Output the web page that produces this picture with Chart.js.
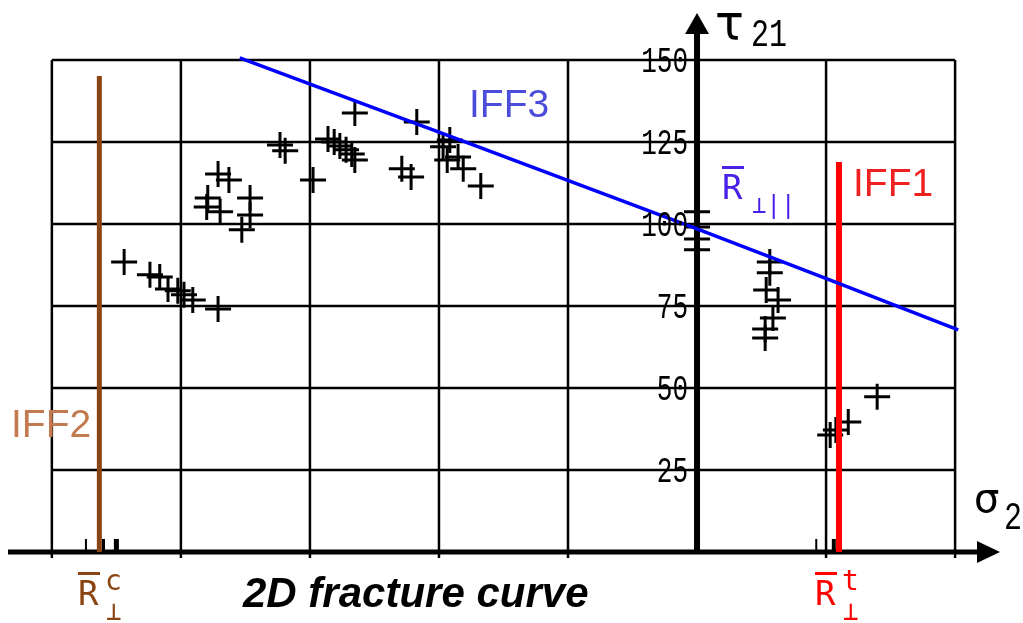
<!DOCTYPE html>
<html>
<head>
<meta charset="utf-8">
<script src="https://cdn.jsdelivr.net/npm/chart.js@4.4.1/dist/chart.umd.min.js"></script>
<style>
html, body { margin: 0; padding: 0; background: #fff; }
#wrap { width: 1023px; height: 623px; }
</style>
</head>
<body>
<div id="wrap"><canvas id="fracture"></canvas></div>
<script>
// grid values for sigma_2 and tick labels for tau_21
const sigmaGrid = [-125, -100, -75, -50, -25, 0, 25, 50];
const tauTicks = [25, 50, 75, 100, 125, 150];

// test results (sigma_2, tau_21)
const testSigma = [-111.0, -106.0, -104.1, -102.5, -100.6, -99.4, -97.7, -92.8,
    -92.8, -90.7, -94.8, -95.0, -92.4, -86.6, -86.6, -88.2, -80.8, -79.8, -74.4,
    -71.5, -70.3, -69.2, -68.0, -66.9, -66.3, -66.3, -54.3, -57.2, -55.4,
    -49.2, -47.9, -48.4, -46.3, -45.3, -41.9,
    0, 0, 0, 0,
    14.1, 14.1, 13.4, 15.7, 14.7, 13.2, 13.2, 34.9, 29.3, 26.9, 25.8];
const testTau = [88.4, 84.5, 83.8, 80.2, 79.6, 78.4, 76.8, 74.1,
    115.2, 113.4, 107.9, 105.2, 103.7, 107.9, 102.7, 98.2, 124.1, 122.3, 113.4,
    125.9, 125.0, 123.8, 122.6, 121.3, 119.5, 133.8, 131.1, 116.8, 114.3,
    123.5, 125.6, 119.5, 120.4, 116.8, 111.6,
    103.7, 99.1, 95.4, 92.1,
    88.4, 85.1, 79.9, 76.8, 71.3, 68.0, 65.2, 47.3, 39.6, 37.2, 35.7];

// single strength results marked on the sigma axis
const axisMarks = [-118.4, -115.0, -112.5, 23.1, 26.5];

// IFF3 fracture curve
const iff3Sigma = [-88.6, 0, 50.6];
const iff3Tau = [150.6, 98.5, 67.7];

// IFF2 / IFF1 limits (R perp compression / tension)
const rPerpC = -115.8;
const rPerpT = 27.5;
const iff2Top = 145.1;
const iff1Top = 118.9;

const pairs = (xs, ys) => xs.map((x, i) => ({ x: x, y: ys[i] }));

const drawing = {
    id: 'drawing',
    beforeDatasetsDraw(chart) {
        const ctx = chart.ctx;
        const xs = chart.scales.x, ys = chart.scales.y;
        const px = v => xs.getPixelForValue(v);
        const py = v => ys.getPixelForValue(v);
        ctx.save();
        ctx.strokeStyle = '#000';
        ctx.lineWidth = 2.5;
        ctx.beginPath();
        sigmaGrid.forEach(s => {
            if (s === 0) return;
            ctx.moveTo(px(s), py(0) + 6);
            ctx.lineTo(px(s), py(150));
        });
        tauTicks.forEach(t => {
            ctx.moveTo(px(sigmaGrid[0]), py(t));
            ctx.lineTo(px(sigmaGrid[sigmaGrid.length - 1]), py(t));
        });
        ctx.stroke();

        // axes
        const x0 = px(0), y0 = py(0);
        ctx.lineWidth = 5;
        ctx.beginPath();
        ctx.moveTo(chart.chartArea.left, y0);
        ctx.lineTo(chart.chartArea.right - 20, y0);
        ctx.stroke();
        ctx.lineWidth = 6;
        ctx.beginPath();
        ctx.moveTo(x0, y0 + 2);
        ctx.lineTo(x0, chart.chartArea.top + 18);
        ctx.stroke();
        ctx.fillStyle = '#000';
        ctx.beginPath();
        ctx.moveTo(x0, chart.chartArea.top - 1);
        ctx.lineTo(x0 - 12, chart.chartArea.top + 20);
        ctx.lineTo(x0 + 12, chart.chartArea.top + 20);
        ctx.closePath();
        ctx.fill();
        ctx.beginPath();
        ctx.moveTo(chart.chartArea.right, y0);
        ctx.lineTo(chart.chartArea.right - 23, y0 - 11);
        ctx.lineTo(chart.chartArea.right - 23, y0 + 11);
        ctx.closePath();
        ctx.fill();
        ctx.restore();
    },
    afterDatasetsDraw(chart) {
        const ctx = chart.ctx;
        const xs = chart.scales.x, ys = chart.scales.y;
        const px = v => xs.getPixelForValue(v);
        const py = v => ys.getPixelForValue(v);
        ctx.save();

        // tau tick labels, tall thin digits
        ctx.fillStyle = '#000';
        ctx.font = '26px "Liberation Mono"';
        ctx.textAlign = 'right';
        ctx.textBaseline = 'middle';
        tauTicks.forEach(t => {
            ctx.save();
            ctx.translate(px(0) - 9, py(t) + 2);
            ctx.scale(1, 1.4);
            ctx.fillText(String(t), 0, 0);
            ctx.restore();
        });

        // axis titles
        ctx.textAlign = 'left';
        ctx.textBaseline = 'alphabetic';
        ctx.font = '48px "DejaVu Sans"';
        ctx.fillText('\u03c4', 715, 39);
        ctx.font = '30px "Liberation Mono"';
        ctx.save();
        ctx.translate(751, 46);
        ctx.scale(1, 1.3);
        ctx.fillText('21', 0, 0);
        ctx.restore();
        ctx.font = '40px "DejaVu Sans"';
        ctx.fillText('\u03c3', 974, 512);
        ctx.font = '30px "Liberation Mono"';
        ctx.save();
        ctx.translate(1004, 529);
        ctx.scale(1, 1.3);
        ctx.fillText('2', 0, 0);
        ctx.restore();

        // mode labels
        ctx.font = '39px "Liberation Sans"';
        ctx.fillStyle = '#4b4bdc';
        ctx.fillText('IFF3', 469, 117);
        ctx.fillStyle = '#ee2020';
        ctx.fillText('IFF1', 853, 196);
        ctx.fillStyle = '#c47a50';
        ctx.fillText('IFF2', 11, 437);

        // strength labels
        const rLabel = (x, yBase, color, sup, sub) => {
            ctx.fillStyle = color;
            ctx.font = '34px "DejaVu Sans Mono"';
            ctx.fillText('R', x, yBase);
            ctx.fillRect(x, yBase - 33, 22, 3);
            if (sup) {
                ctx.font = '28px "DejaVu Sans Mono"';
                ctx.fillText(sup, x + 27, yBase - 15);
            }
            ctx.font = '26px "DejaVu Sans Mono"';
            ctx.fillText(sub, x + 28, yBase + 15);
        };
        rLabel(78, 605, '#8b4513', 'c', '\u22a5');
        rLabel(815, 605, '#ff0000', 't', '\u22a5');
        rLabel(722, 199, '#4a20e8', null, '');
        ctx.font = '24px "DejaVu Sans Mono"';
        ctx.fillText('\u22a5||', 752, 213);

        // caption
        ctx.fillStyle = '#000';
        ctx.font = 'italic bold 42px "Liberation Sans"';
        ctx.fillText('2D fracture curve', 243, 607);
        ctx.restore();
    }
};

new Chart(document.getElementById('fracture'), {
    type: 'scatter',
    data: {
        datasets: [
            {
                label: 'IFF3',
                type: 'line',
                data: pairs(iff3Sigma, iff3Tau),
                borderColor: '#0000ff',
                borderWidth: 3.5,
                pointRadius: 0,
                tension: 0.3,
                fill: false
            },
            {
                label: 'IFF2',
                type: 'line',
                data: [{ x: rPerpC, y: 0 }, { x: rPerpC, y: iff2Top }],
                borderColor: '#8b4513',
                borderWidth: 5,
                pointRadius: 0
            },
            {
                label: 'IFF1',
                type: 'line',
                data: [{ x: rPerpT, y: 0 }, { x: rPerpT, y: iff1Top }],
                borderColor: '#ff0000',
                borderWidth: 6,
                pointRadius: 0
            },
            {
                label: 'axis marks',
                data: axisMarks.map(s => ({ x: s, y: 2 })),
                pointStyle: 'line',
                rotation: 90,
                pointRadius: 6.5,
                borderColor: '#000',
                borderWidth: [2, 3, 5, 2, 4],
                clip: false
            },
            {
                label: 'tests',
                data: pairs(testSigma, testTau),
                pointStyle: 'cross',
                pointRadius: 13,
                borderColor: '#000',
                borderWidth: 3,
                clip: false
            }
        ]
    },
    options: {
        responsive: true,
        maintainAspectRatio: false,
        animation: false,
        layout: { autoPadding: false, padding: { left: 8, right: 23, top: 14, bottom: 71 } },
        plugins: { legend: { display: false }, tooltip: { enabled: false } },
        scales: {
            x: { type: 'linear', min: -133.5, max: 58.7, display: false },
            y: { type: 'linear', min: 0, max: 164, display: false }
        }
    },
    plugins: [drawing]
});
</script>
</body>
</html>
